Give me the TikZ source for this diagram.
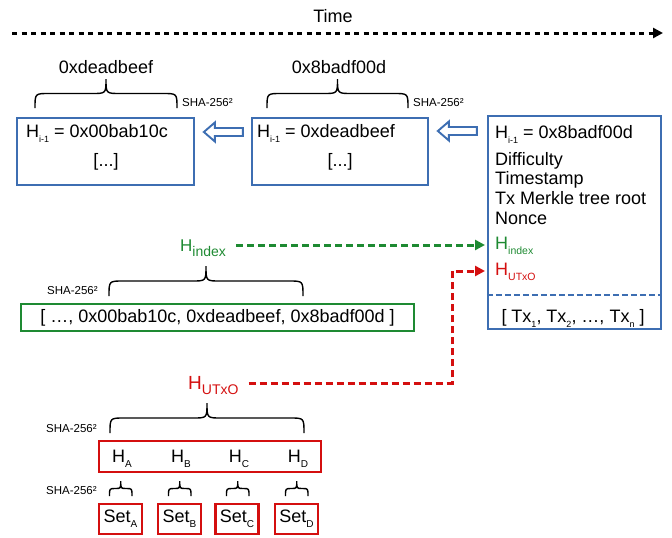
\documentclass[tikz,border=0pt]{standalone}
\usepackage{fontspec}
\setmainfont{Liberation Sans}
\usetikzlibrary{arrows.meta,calc}
\definecolor{bblue}{HTML}{3D6EB2}
\definecolor{ggreen}{HTML}{1E8A32}
\definecolor{rred}{HTML}{D40F0F}
\newcommand{\subx}[2][9]{\raisebox{-5pt}{\fontsize{#1}{#1}\selectfont #2}}
% brace: x1, x2, ybottom, height, r
\newcommand{\mybrace}[5]{%
  \draw[line width=1.4pt] (#1,#3) .. controls (#1,{#3-#4/2}) .. ({#1+#5},{#3-#4/2})
    -- ({(#1+#2)/2-#5},{#3-#4/2}) .. controls ({(#1+#2)/2},{#3-#4/2}) .. ({(#1+#2)/2},{#3-#4})
    .. controls ({(#1+#2)/2},{#3-#4/2}) .. ({(#1+#2)/2+#5},{#3-#4/2})
    -- ({#2-#5},{#3-#4/2}) .. controls (#2,{#3-#4/2}) .. (#2,#3);}
\begin{document}
\begin{tikzpicture}[x=1pt,y=-1pt,
  txt/.style={inner sep=0pt, font=\fontsize{18}{18}\selectfont},
  sha/.style={inner sep=0pt, font=\fontsize{11.5}{12}\selectfont, anchor=base west},
  bbox/.style={draw=bblue, line width=2.3pt, inner sep=0pt},
  gbox/.style={draw=ggreen, line width=2.2pt, inner sep=0pt},
  rbox/.style={draw=rred, line width=2.2pt, inner sep=0pt},
  harrow/.style={draw=bblue, line width=1.9pt, fill=white, line join=miter},
  dasharrow/.style={line width=3pt, dash pattern=on 7pt off 4pt, -{Triangle[length=10pt,width=10pt]}}]
\useasboundingbox (0,0) rectangle (672,538);

% time
\node[txt, anchor=base] (time) at (333,22) {Time};
\coordinate (t0) at (12,33);
\coordinate (t1) at (663,33);
\draw[line width=3pt, dash pattern=on 5pt off 4.5pt, -{Triangle[length=10pt,width=10pt]}] (t0) -- (t1);

% block 1
\node[bbox, minimum width=177pt, minimum height=67pt] (b1) at (105.5,151.5) {};
\node[txt, anchor=base west] (b1h) at (26,137) {H\subx{i-1} = 0x00bab10c};
\node[txt, anchor=base] (b1d) at (106,166) {[...]};
\mybrace{35}{177}{108}{29}{14}
\node[txt, anchor=base] (l1) at (106,73) {0xdeadbeef};
\node[sha] (s1) at (182,106) {SHA-256²};

% block 2
\node[bbox, minimum width=176pt, minimum height=67pt] (b2) at (340,151.5) {};
\node[txt, anchor=base west] (b2h) at (257,137) {H\subx{i-1} = 0xdeadbeef};
\node[txt, anchor=base] (b2d) at (340,166) {[...]};
\mybrace{267}{408}{108}{29}{14}
\node[txt, anchor=base] (l2) at (339,73) {0x8badf00d};
\node[sha] (s2) at (413,106) {SHA-256²};

% block 3
\node[bbox, minimum width=173pt, minimum height=213pt] (b3) at (574.5,222.5) {};
\node[txt, anchor=base west] (b3h) at (495,138) {H\subx{i-1} = 0x8badf00d};
\node[txt, anchor=base west] (b3d) at (495,165) {Difficulty};
\node[txt, anchor=base west] (b3t) at (495,184) {Timestamp};
\node[txt, anchor=base west] (b3m) at (495,204) {Tx Merkle tree root};
\node[txt, anchor=base west] (b3n) at (495,224) {Nonce};
\node[txt, anchor=base west, text=ggreen] (b3i) at (495,249) {H\subx[10.5]{index}};
\node[txt, anchor=base west, text=rred] (b3u) at (495,275) {H\subx[10.5]{UTxO}};
\draw[bblue, line width=2.2pt, dash pattern=on 6pt off 3pt] (b3.west |- 0,295) -- (b3.east |- 0,295);
\node[txt, anchor=base] (b3x) at (573,322) {[ Tx\subx{1}, Tx\subx{2}, …, Tx\subx{n} ]};

% hollow arrows
\coordinate (a1) at ($(b2.west)+(-8,-19.5)$);
\draw[harrow] (a1) ++(0,-4) -- ++(-28,0) -- ++(0,-5.5) -- ++(-11,9.5) -- ++(11,9.5) -- ++(0,-5.5) -- ++(28,0) -- cycle;
\coordinate (a2) at ($(b3.west)+(-10,-91.5)$);
\draw[harrow] (a2) ++(0,-4) -- ++(-28,0) -- ++(0,-5.5) -- ++(-11,9.5) -- ++(11,9.5) -- ++(0,-5.5) -- ++(28,0) -- cycle;

% index
\node[inner sep=0pt, anchor=base west, text=ggreen, font=\fontsize{17}{17}\selectfont] (hidx) at (180,251) {H\subx[14]{index}};
\mybrace{109}{303}{296}{30}{14}
\node[sha] (s3) at (47,294) {SHA-256²};
\node[gbox, minimum width=393pt, minimum height=27pt, txt] (gb) at (217.5,317.5) {[ …, 0x00bab10c, 0xdeadbeef, 0x8badf00d ]};
\draw[ggreen, dasharrow] ([xshift=10pt]hidx.east |- 0,245) -- ([xshift=-10pt]b3i.west |- 0,245);

% utxo
\node[inner sep=0pt, anchor=base west, text=rred, font=\fontsize{19}{19}\selectfont] (hutxo) at (188,389) {H\subx[14]{UTxO}};
\draw[rred, dasharrow] ([xshift=10pt]hutxo.east |- 0,383) -| (452,271) -- ([xshift=-10pt]b3u.west |- 0,271);
\mybrace{110}{304}{433}{30}{14}
\node[sha] (s4) at (46,432) {SHA-256²};
\node[rbox, minimum width=222pt, minimum height=31pt] (rb) at (210,456.5) {};
\node[txt, anchor=base] (ha) at (122,462) {H\subx[10]{A}};
\node[txt, anchor=base] (hb) at (181,462) {H\subx[10]{B}};
\node[txt, anchor=base] (hc) at (239,462) {H\subx[10]{C}};
\node[txt, anchor=base] (hd) at (298,462) {H\subx[10]{D}};
\node[sha] (s5) at (46,494) {SHA-256²};
\mybrace{109.5}{132}{496}{15}{5.5}
\mybrace{168.5}{191}{496}{15}{5.5}
\mybrace{226.5}{249}{496}{15}{5.5}
\mybrace{285.5}{308}{496}{15}{5.5}
\node[rbox, minimum width=43pt, minimum height=30pt, txt] (sa) at (120.5,519) {Set\subx[10]{A}};
\node[rbox, minimum width=43pt, minimum height=30pt, txt] (sb) at (179.5,519) {Set\subx[10]{B}};
\node[rbox, minimum width=43pt, minimum height=30pt, txt] (sc) at (237,519) {Set\subx[10]{C}};
\node[rbox, minimum width=43pt, minimum height=30pt, txt] (sd) at (296.5,519) {Set\subx[10]{D}};
\end{tikzpicture}
\end{document}
